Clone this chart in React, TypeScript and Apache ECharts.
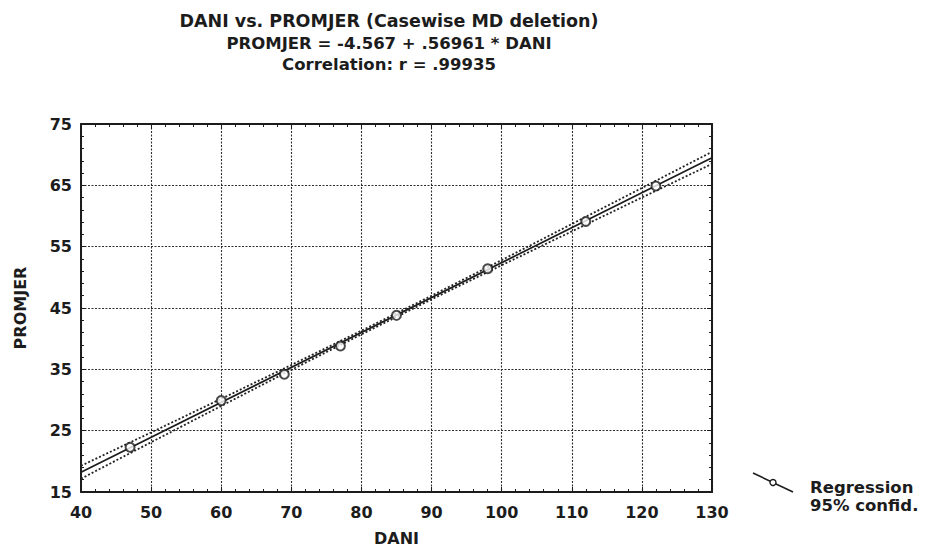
import React, { useEffect, useRef } from "react";
import * as echarts from "echarts";

const titleLines = [
  "DANI vs. PROMJER (Casewise MD deletion)",
  "PROMJER = -4.567 + .56961 * DANI",
  "Correlation: r = .99935",
];
const xName = "DANI";
const yName = "PROMJER";
const legendLabels = ["Regression", "95% confid."];

// observed cases
const dani = [47, 60, 69, 77, 85, 98, 112, 122];
const promjer = [22.3, 29.9, 34.2, 38.8, 43.8, 51.4, 59.1, 64.9];

// regression line end points
const regX = [40, 130];
const regY = [18.22, 69.48];

// 95% confidence band
const confX = [40, 50, 60, 70, 80, 90, 100, 110, 120, 130];
const confUpper = [19.27, 24.71, 30.19, 35.71, 41.3, 47.0, 52.81, 58.69, 64.57, 70.46];
const confLower = [17.17, 23.11, 29.03, 34.91, 40.7, 46.4, 51.97, 57.49, 63.01, 68.5];

const FONT = "DejaVu Sans";
const INK = "#1c1c1c";

export default function App() {
  const ref = useRef<HTMLDivElement>(null);
  useEffect(() => {
    if (!ref.current) return;
    const chart = echarts.init(ref.current, null, { renderer: "svg" });
    const labelStyle = { color: INK, fontFamily: FONT, fontWeight: "bold", fontSize: 16 };
    const axisLine = { show: true, lineStyle: { color: INK, width: 2 } };
    const tick = { show: true, inside: true, length: 5, lineStyle: { color: INK, width: 1 } };
    const minor = { show: true, splitNumber: 5, length: 3, lineStyle: { color: INK, width: 1 } };
    const split = { show: true, lineStyle: { color: "#2e2e2e", width: 1.1, type: [2, 1.5] } };
    chart.setOption({
      animation: false,
      backgroundColor: "#ffffff",
      grid: { left: 81, right: 213, top: 124, bottom: 67, show: false },
      xAxis: [
        {
          type: "value", min: 40, max: 130, interval: 10, position: "bottom",
          axisLine, axisTick: tick, minorTick: minor, splitLine: split,
          axisLabel: { ...labelStyle, margin: 12 },
          name: xName, nameLocation: "middle", nameGap: 38,
          nameTextStyle: { ...labelStyle },
        },
        {
          type: "value", min: 40, max: 130, interval: 10, position: "top",
          axisLine, axisTick: tick, minorTick: minor, splitLine: { show: false },
          axisLabel: { show: false },
        },
      ],
      yAxis: [
        {
          type: "value", min: 15, max: 75, interval: 10, position: "left",
          axisLine, axisTick: tick, minorTick: minor, splitLine: split,
          axisLabel: { ...labelStyle, margin: 9 },
          name: yName, nameLocation: "middle", nameGap: 53, nameRotate: 90,
          nameTextStyle: { ...labelStyle },
        },
        {
          type: "value", min: 15, max: 75, interval: 10, position: "right",
          axisLine, axisTick: tick, minorTick: minor, splitLine: { show: false },
          axisLabel: { show: false },
        },
      ],
      series: [
        {
          type: "line", name: "upper", xAxisIndex: 0, yAxisIndex: 0,
          data: confX.map((x, i) => [x, confUpper[i]]), symbol: "none",
          lineStyle: { color: "#222", width: 1.8, type: [2, 2] }, z: 3,
        },
        {
          type: "line", name: "lower", xAxisIndex: 0, yAxisIndex: 0,
          data: confX.map((x, i) => [x, confLower[i]]), symbol: "none",
          lineStyle: { color: "#222", width: 1.8, type: [2, 2] }, z: 3,
        },
        {
          type: "line", name: "Regression", xAxisIndex: 0, yAxisIndex: 0,
          data: regX.map((x, i) => [x, regY[i]]), symbol: "none",
          lineStyle: { color: INK, width: 1.7 }, z: 4,
        },
        {
          type: "scatter", name: "cases", xAxisIndex: 0, yAxisIndex: 0,
          data: dani.map((x, i) => [x, promjer[i]]),
          symbol: "emptyCircle", symbolSize: 9,
          itemStyle: { color: INK, borderColor: INK, borderWidth: 1.8 }, z: 5,
        },
      ],
      graphic: [
        ...titleLines.map((t, i) => ({
          type: "text", x: 389, y: [21, 43, 64][i],
          style: {
            text: t, fill: INK, font: `bold ${i === 0 ? 17.5 : 16.5}px "${FONT}"`,
            textAlign: "center", textVerticalAlign: "middle",
          },
        })),
        {
          type: "line",
          shape: { x1: 753, y1: 473, x2: 793, y2: 492 },
          style: { stroke: INK, lineWidth: 1.6 },
        },
        {
          type: "circle",
          shape: { cx: 773, cy: 482.5, r: 3 },
          style: { stroke: INK, fill: "#fff", lineWidth: 1.4 },
        },
        ...legendLabels.map((t, i) => ({
          type: "text", x: 810, y: [487, 505][i],
          style: {
            text: t, fill: INK, font: `bold 16.5px "${FONT}"`,
            textAlign: "left", textVerticalAlign: "middle",
          },
        })),
      ],
    });
    return () => chart.dispose();
  }, []);
  return <div ref={ref} style={{ width: 925, height: 559, position: "absolute", left: 0, top: 0 }} />;
}
